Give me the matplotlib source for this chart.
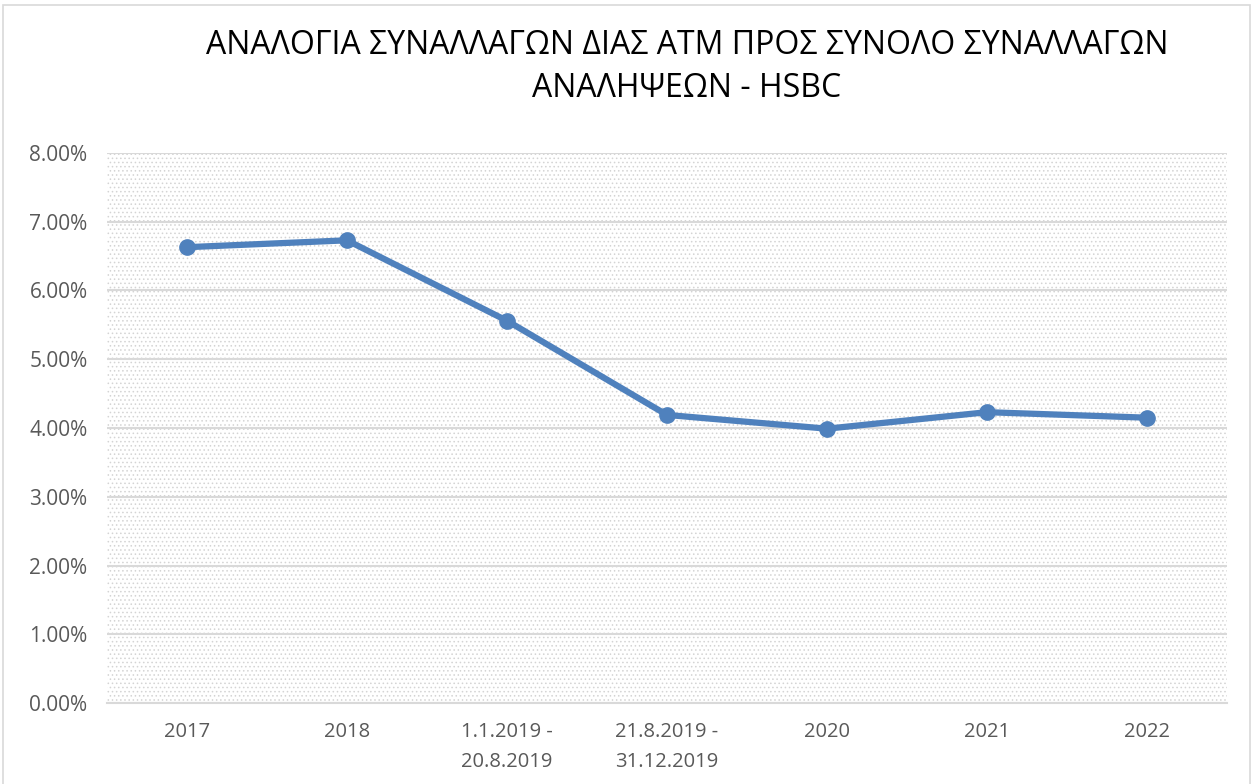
import matplotlib
matplotlib.use("Agg")
import matplotlib.pyplot as plt
from matplotlib.patches import Rectangle
from matplotlib.ticker import FuncFormatter

categories = ["2017", "2018", "1.1.2019 -\n20.8.2019", "21.8.2019 -\n31.12.2019", "2020", "2021", "2022"]
values = [6.63, 6.73, 5.56, 4.19, 3.99, 4.23, 4.15]
title = "ΑΝΑΛΟΓΙΑ ΣΥΝΑΛΛΑΓΩΝ ΔΙΑΣ ΑΤΜ ΠΡΟΣ ΣΥΝΟΛΟ ΣΥΝΑΛΛΑΓΩΝ\nΑΝΑΛΗΨΕΩΝ - HSBC"

plt.rcParams['font.family'] = ['Open Sans', 'DejaVu Sans']
plt.rcParams['hatch.linewidth'] = 0.6
plt.rcParams['hatch.color'] = '#d4d4d4'

fig = plt.figure(figsize=(12.54, 7.84), dpi=100)
W, H = 1254, 784
ax = fig.add_axes([107 / W, 1 - 703 / H, (1227 - 107) / W, (703 - 153) / H])

# Figure border
fig.add_artist(Rectangle((3 / W, -0.01), (1250 - 3) / W, 1 - 5 / H + 0.01,
                         transform=fig.transFigure, fill=False, edgecolor='#d9d9d9', linewidth=1.2))

# dotted background
ax.set_facecolor('white')
ax.add_patch(Rectangle((0, 0), 1, 1, transform=ax.transAxes, facecolor='none',
                       edgecolor='#d4d4d4', hatch='....', linewidth=0, zorder=0))

x = list(range(len(categories)))
ax.plot(x, values, color='#4f81bd', linewidth=4.5, marker='o', markersize=11, zorder=3,
        solid_capstyle='round')

ax.set_xlim(-0.5, len(categories) - 0.5)
ax.set_ylim(0, 8)
ax.set_yticks([i for i in range(0, 9)])
ax.yaxis.set_major_formatter(FuncFormatter(lambda v, p: f"{v:.2f}%"))
ax.set_xticks(x)
ax.set_xticklabels(categories)
ax.grid(axis='y', color='#d9d9d9', linewidth=1.5, zorder=1)
ax.set_axisbelow(True)
for s in ['top', 'right', 'left']:
    ax.spines[s].set_visible(False)
ax.spines['bottom'].set_color('#d9d9d9')
ax.spines['bottom'].set_linewidth(1.5)
ax.tick_params(axis='y', length=0, labelsize=15, colors='#595959', pad=14)
ax.tick_params(axis='x', length=0, labelsize=14.5, colors='#595959', pad=14)
for lbl in ax.get_xticklabels():
    lbl.set_verticalalignment('top')
    lbl.set_linespacing(1.65)

fig.text(687 / W, 1 - 67 / H, title, ha='center', va='center', fontsize=23,
         color='#000000', linespacing=1.4)

fig.savefig("out.png", dpi=100)
